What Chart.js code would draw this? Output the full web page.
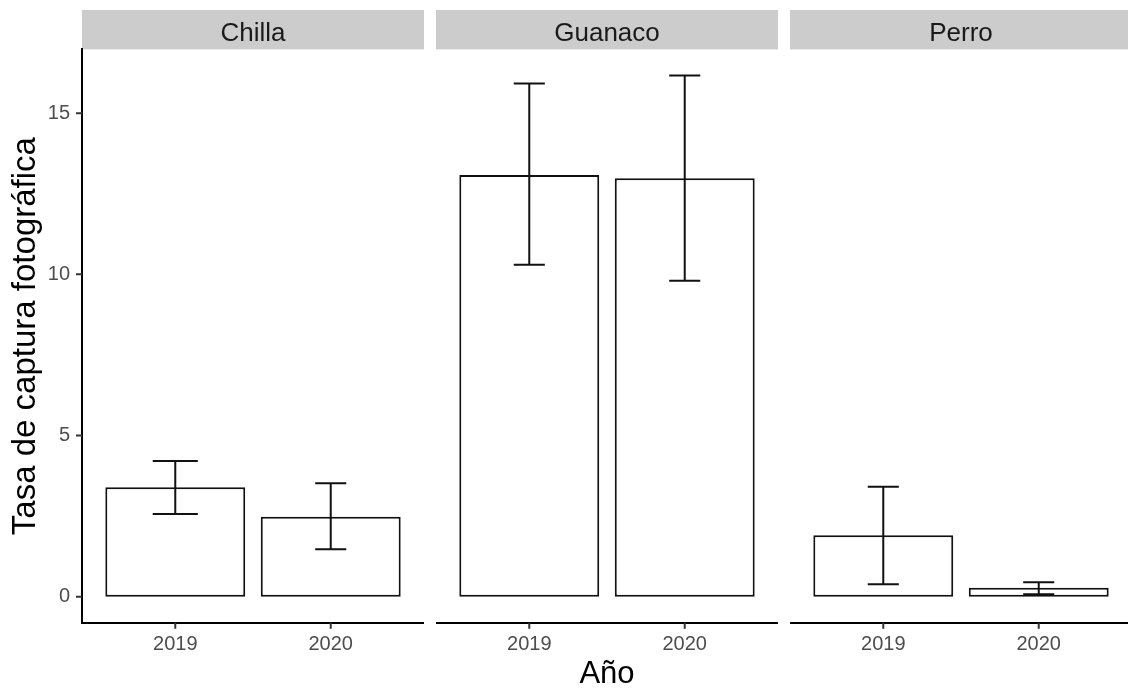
<!DOCTYPE html>
<html><head><meta charset="utf-8">
<script src="https://cdn.jsdelivr.net/npm/chart.js@4"></script>
<style>
html,body{margin:0;padding:0;background:#fff;overflow:hidden;width:1128px;height:691px;}
#wrap{position:relative;width:1128px;height:691px;overflow:hidden;background:#fff;}
canvas{position:absolute;top:0;}
</style></head><body>
<div id="wrap">
<canvas id="c0" width="424" height="691" style="left:0px"></canvas>
<canvas id="c1" width="342" height="691" style="left:436px"></canvas>
<canvas id="c2" width="342" height="691" style="left:790px"></canvas>
</div>
<script>
// ---- data ----
const species = ['Chilla', 'Guanaco', 'Perro'];
const years = ['2019', '2020'];
const tasaChilla = [3.40, 2.48];
const lowChilla = [2.57, 1.47];
const highChilla = [4.21, 3.52];
const tasaGuanaco = [13.08, 12.98];
const lowGuanaco = [10.30, 9.80];
const highGuanaco = [15.92, 16.17];
const tasaPerro = [1.91, 0.28];
const lowPerro = [0.39, 0.08];
const highPerro = [3.41, 0.45];
const yTicks = [0, 5, 10, 15];
const yTitle = 'Tasa de captura fotográfica';
const xTitle = 'Año';

// ---- styles ----
const FONT = "'Liberation Sans', Arial, Helvetica, sans-serif";
const allHigh = highChilla.concat(highGuanaco, highPerro);
const maxHigh = Math.max(...allHigh);
const yMin = -0.05 * maxHigh;
const yMax = maxHigh * 1.05;
const PLOT_TOP = 49.4;
const X_AXIS_H = 68.2;
const Y_AXIS_W = 82;
const TICK_LEN = 6;

function makePanel(idx, canvasId, tasa, low, high, capWidths) {
  const stripPlugin = {
    id: 'strip' + idx,
    beforeDraw(chart) {
      const {ctx, chartArea} = chart;
      ctx.save();
      ctx.fillStyle = '#CCCCCC';
      ctx.fillRect(chartArea.left, 10, chartArea.right - chartArea.left, chartArea.top - 10);
      ctx.fillStyle = '#1A1A1A';
      ctx.font = '26px ' + FONT;
      ctx.textAlign = 'center';
      ctx.textBaseline = 'alphabetic';
      ctx.fillText(species[idx], (chartArea.left + chartArea.right) / 2, 41);
      ctx.restore();
    }
  };
  // axis tick marks, placed at the scales' own tick values
  const tickPlugin = {
    id: 'ticks' + idx,
    afterDraw(chart) {
      const {ctx, chartArea} = chart;
      const x = chart.scales.x, y = chart.scales.y;
      ctx.save();
      ctx.strokeStyle = '#333';
      ctx.lineWidth = 2;
      ctx.beginPath();
      x.ticks.forEach(t => {
        const px = x.getPixelForValue(t.value);
        ctx.moveTo(px, chartArea.bottom); ctx.lineTo(px, chartArea.bottom + TICK_LEN);
      });
      if (idx === 0) {
        y.ticks.forEach(t => {
          const py = y.getPixelForValue(t.value);
          ctx.moveTo(chartArea.left, py); ctx.lineTo(chartArea.left - TICK_LEN, py);
        });
      }
      ctx.stroke();
      ctx.restore();
    }
  };
  const errPlugin = {
    id: 'err' + idx,
    afterDatasetsDraw(chart) {
      const {ctx} = chart;
      const x = chart.scales.x, y = chart.scales.y;
      ctx.save();
      ctx.strokeStyle = '#111';
      ctx.lineWidth = 2;
      low.forEach((lo, i) => {
        const hi = high[i];
        const cx = x.getPixelForValue(i + 1);
        const half = x.getPixelForValue(i + 1 + capWidths[i] / 2) - cx;
        const y1 = y.getPixelForValue(lo), y2 = y.getPixelForValue(hi);
        ctx.beginPath();
        ctx.moveTo(cx, y1); ctx.lineTo(cx, y2);
        ctx.moveTo(cx - half, y1); ctx.lineTo(cx + half, y1);
        ctx.moveTo(cx - half, y2); ctx.lineTo(cx + half, y2);
        ctx.stroke();
      });
      ctx.restore();
    }
  };
  return new Chart(document.getElementById(canvasId), {
    type: 'bar',
    data: {
      datasets: [{
        data: tasa.map((v, i) => ({x: i + 1, y: v})),
        backgroundColor: '#FFFFFF',
        borderColor: '#111111',
        borderWidth: 2,
        borderSkipped: false,
        barPercentage: 0.9,
        categoryPercentage: 1.0
      }]
    },
    options: {
      responsive: false,
      animation: false,
      events: [],
      layout: {padding: {top: PLOT_TOP, left: 0, right: 0, bottom: 0}},
      plugins: {legend: {display: false}, tooltip: {enabled: false}},
      scales: {
        x: {
          type: 'linear', min: 0.4, max: 2.6, offset: false,
          afterBuildTicks: s => { s.ticks = years.map((yy, i) => ({value: i + 1})); },
          afterFit: s => { s.height = X_AXIS_H; },
          border: {display: true, color: '#000', width: 2},
          grid: {display: false, tickLength: TICK_LEN},
          ticks: {color: '#4D4D4D', font: {family: FONT, size: 20}, padding: 4,
                  maxRotation: 0, autoSkip: false, callback: (v, i) => years[i]},
          title: {display: idx === 1, text: xTitle, color: '#000',
                  font: {family: FONT, size: 31, lineHeight: 1.0}, padding: {top: 0, bottom: 1}}
        },
        y: {
          display: idx === 0,
          min: yMin, max: yMax,
          afterBuildTicks: s => { s.ticks = yTicks.map(v => ({value: v})); },
          afterFit: s => { s.width = idx === 0 ? Y_AXIS_W : 0; },
          border: {display: true, color: '#000', width: 2},
          grid: {display: false, tickLength: TICK_LEN},
          ticks: {color: '#4D4D4D', font: {family: FONT, size: 20}, padding: 6},
          title: {display: true, text: yTitle, color: '#000',
                  font: {family: FONT, size: 33, lineHeight: 1.2}, padding: {top: 6, bottom: 0}}
        }
      }
    },
    plugins: [stripPlugin, tickPlugin, errPlugin]
  });
}

makePanel(0, 'c0', tasaChilla, lowChilla, highChilla, [0.29, 0.2]);
makePanel(1, 'c1', tasaGuanaco, lowGuanaco, highGuanaco, [0.2, 0.2]);
makePanel(2, 'c2', tasaPerro, lowPerro, highPerro, [0.2, 0.2]);
</script>
</body></html>
